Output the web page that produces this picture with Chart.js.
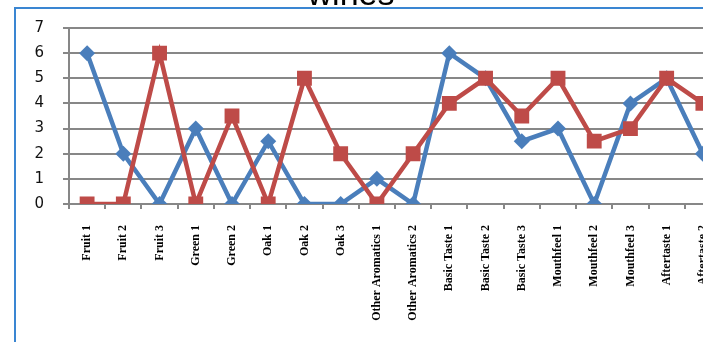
<!DOCTYPE html>
<html>
<head>
<meta charset="utf-8">
<script src="https://cdn.jsdelivr.net/npm/chart.js@4/dist/chart.umd.min.js"></script>
<style>
  html, body { margin: 0; padding: 0; background: #fff; overflow: hidden; }
  #wrap { position: relative; width: 703px; height: 342px; overflow: hidden; }
  #wines { position: absolute; left: 0; top: 0; }
</style>
</head>
<body>
<div id="wrap">
  <canvas id="wines" width="740" height="342"></canvas>
</div>
<script>
// atributos sensoriales y puntuaciones de cada vino
const atributos = ['Fruit 1', 'Fruit 2', 'Fruit 3', 'Green 1', 'Green 2', 'Oak 1', 'Oak 2', 'Oak 3',
    'Other Aromatics 1', 'Other Aromatics 2', 'Basic Taste 1', 'Basic Taste 2', 'Basic Taste 3',
    'Mouthfeel 1', 'Mouthfeel 2', 'Mouthfeel 3', 'Aftertaste 1', 'Aftertaste 2'];
const vinoAzul = [6, 2, 0, 3, 0, 2.5, 0, 0, 1, 0, 6, 5, 2.5, 3, 0, 4, 5, 2];
const vinoRojo = [0, 0, 6, 0, 3.5, 0, 5, 2, 0, 2, 4, 5, 3.5, 5, 2.5, 3, 5, 4];
const ejeY = [0, 1, 2, 3, 4, 5, 6, 7];
const titulo = 'wines';

const gris = '#878787';

// marco azul y titulo (el titulo queda cortado arriba)
const marco = {
    id: 'marco',
    beforeDraw(chart) {
        const ctx = chart.ctx;
        ctx.save();
        ctx.strokeStyle = '#3a86d2';
        ctx.lineWidth = 2;
        ctx.beginPath();
        ctx.moveTo(15, 342);
        ctx.lineTo(15, 8);
        ctx.lineTo(chart.width, 8);
        ctx.stroke();
        ctx.restore();
    },
    afterDraw(chart) {
        const ctx = chart.ctx;
        ctx.save();
        ctx.fillStyle = '#000';
        ctx.font = '34px "Liberation Sans", Arial, sans-serif';
        ctx.textAlign = 'center';
        ctx.textBaseline = 'alphabetic';
        ctx.fillText(titulo, 351, 5);
        ctx.restore();
    }
};

const ctx = document.getElementById('wines').getContext('2d');
const myChart = new Chart(ctx, {
    type: 'line',
    data: {
        labels: atributos,
        datasets: [{
            label: 'A',
            data: vinoAzul,
            borderColor: '#4a7ebb',
            backgroundColor: '#4a7ebb',
            borderWidth: 4.5,
            pointStyle: 'rectRot',
            pointRadius: 8,
            pointBorderWidth: 0,
            tension: 0,
            order: 2
        }, {
            label: 'B',
            data: vinoRojo,
            borderColor: '#be4b48',
            backgroundColor: '#be4b48',
            borderWidth: 4.5,
            pointStyle: 'rect',
            pointRadius: 10.5,
            pointBorderWidth: 0,
            tension: 0,
            order: 1
        }]
    },
    options: {
        responsive: false,
        animation: false,
        devicePixelRatio: 1,
        layout: { padding: { left: 0, right: 19, top: 24, bottom: 0 } },
        plugins: {
            legend: { display: false },
            tooltip: { enabled: false }
        },
        scales: {
            x: {
                offset: true,
                grid: {
                    offset: true,
                    drawOnChartArea: false,
                    drawTicks: true,
                    tickLength: 5,
                    color: gris,
                    lineWidth: 2
                },
                border: { color: gris, width: 2 },
                ticks: {
                    autoSkip: false,
                    minRotation: 90,
                    maxRotation: 90,
                    padding: 16,
                    color: '#000',
                    font: { family: '"Liberation Serif", serif', size: 12, weight: 'bold' }
                },
                afterFit(scale) { scale.height = 138; }
            },
            y: {
                min: 0,
                max: 7,
                afterBuildTicks(scale) { scale.ticks = ejeY.map(v => ({ value: v })); },
                grid: {
                    color: gris,
                    lineWidth: 2,
                    drawTicks: true,
                    tickLength: 6
                },
                border: { color: gris, width: 2 },
                ticks: {
                    padding: 19,
                    color: '#111',
                    font: { family: '"DejaVu Sans", sans-serif', size: 15 }
                },
                afterFit(scale) { scale.width = 69; }
            }
        }
    },
    plugins: [marco]
});
</script>
</body>
</html>
